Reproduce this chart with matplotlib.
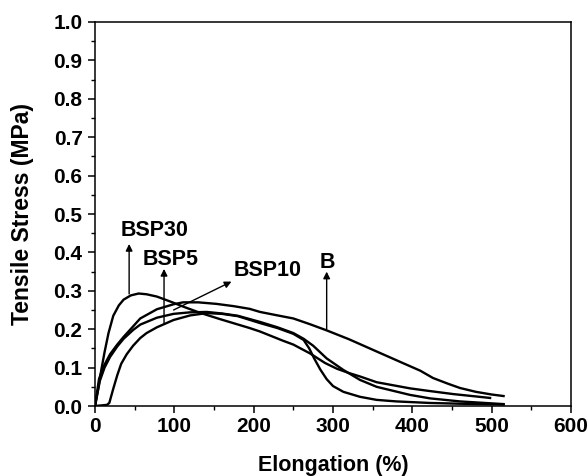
import matplotlib
matplotlib.use("Agg")
import matplotlib.pyplot as plt
from matplotlib.ticker import MultipleLocator

# 글꼴 설정 (Arial 계열)
plt.rcParams["font.family"] = ["Liberation Sans", "DejaVu Sans"]
plt.rcParams["font.weight"] = "bold"

# 인장 곡선 데이터
B_x = [0, 5, 10, 19, 28, 36, 47, 57, 78, 99, 111, 130, 153, 175, 195, 208, 230,
       250, 271, 292, 320, 355, 389, 410, 426, 445, 460, 480, 500, 515]
B_y = [0, 0.07, 0.1, 0.135, 0.16, 0.18, 0.205, 0.228, 0.252, 0.265, 0.27, 0.27,
       0.266, 0.26, 0.253, 0.245, 0.236, 0.228, 0.213, 0.197, 0.174, 0.142,
       0.111, 0.092, 0.073, 0.058, 0.047, 0.037, 0.030, 0.026]

BSP5_x = [0, 15, 18, 23, 28, 33, 40, 48, 57, 65, 78, 99, 120, 141, 160, 180,
          208, 230, 250, 263, 270, 276, 284, 292, 300, 313, 334, 355, 380, 422,
          460, 515]
BSP5_y = [0, 0.003, 0.008, 0.045, 0.08, 0.11, 0.135, 0.157, 0.177, 0.19, 0.205,
          0.224, 0.236, 0.242, 0.240, 0.234, 0.216, 0.203, 0.188, 0.172, 0.15,
          0.125, 0.095, 0.07, 0.052, 0.037, 0.024, 0.016, 0.012, 0.008, 0.006,
          0.004]

BSP10_x = [0, 6, 12, 19, 28, 36, 48, 57, 78, 99, 120, 141, 160, 180, 208, 230,
           250, 263, 275, 292, 313, 334, 355, 397, 422, 460, 515]
BSP10_y = [0, 0.065, 0.1, 0.128, 0.155, 0.175, 0.198, 0.212, 0.23, 0.24, 0.244,
           0.245, 0.241, 0.235, 0.219, 0.205, 0.19, 0.175, 0.157, 0.124, 0.094,
           0.068, 0.050, 0.029, 0.02, 0.012, 0.005]

BSP30_x = [0, 4, 8, 12, 17, 23, 30, 36, 45, 55, 65, 78, 95, 111, 132, 158, 195,
           208, 237, 250, 271, 290, 305, 320, 334, 355, 397, 422, 452, 480, 498]
BSP30_y = [0, 0.045, 0.095, 0.14, 0.19, 0.235, 0.262, 0.277, 0.288, 0.293,
           0.291, 0.285, 0.272, 0.259, 0.243, 0.226, 0.203, 0.194, 0.170, 0.160,
           0.137, 0.112, 0.097, 0.086, 0.077, 0.062, 0.046, 0.039, 0.031, 0.025,
           0.021]

# 라벨: (텍스트 위치, 화살표 시작점, 화살표 끝점)
labels = ["BSP30", "BSP5", "BSP10", "B"]
label_pos = [(75, 0.456), (95, 0.381), (217, 0.354), (293, 0.374)]
arrow_from = [(43, 0.292), (87, 0.216), (99, 0.25), (292, 0.2)]
arrow_to = [(43, 0.422), (87, 0.357), (172, 0.324), (292, 0.35)]


def visualization():
    fig = plt.figure(figsize=(5.88, 4.76), dpi=100)
    ax = fig.add_axes([0.1616, 0.147, 0.8095, 0.8068])

    for xs, ys in [(B_x, B_y), (BSP5_x, BSP5_y), (BSP10_x, BSP10_y), (BSP30_x, BSP30_y)]:
        ax.plot(xs, ys, color="black", lw=1.7)

    for text, pos, a0, a1 in zip(labels, label_pos, arrow_from, arrow_to):
        ax.annotate("", xy=a1, xytext=a0,
                    arrowprops=dict(arrowstyle="-|>", color="black", lw=1.0,
                                    mutation_scale=10, shrinkA=0, shrinkB=0))
        ax.text(pos[0], pos[1], text, ha="center", va="center",
                fontsize=15.5, fontweight="bold")

    ax.set_xlim(0, 600)
    ax.set_ylim(0, 1.0)
    ax.xaxis.set_major_locator(MultipleLocator(100))
    ax.xaxis.set_minor_locator(MultipleLocator(50))
    ax.yaxis.set_major_locator(MultipleLocator(0.1))
    ax.yaxis.set_minor_locator(MultipleLocator(0.05))
    ax.yaxis.set_major_formatter(plt.FuncFormatter(lambda v, p: f"{v:.1f}"))
    ax.tick_params(which="major", direction="out", length=5, width=1.1,
                   labelsize=15, pad=3)
    ax.tick_params(which="minor", direction="out", length=3, width=1.0)
    ax.tick_params(axis="y", pad=4)
    for lab in ax.get_xticklabels() + ax.get_yticklabels():
        lab.set_fontweight("bold")
    for sp in ax.spines.values():
        sp.set_linewidth(1.1)

    ax.set_xlabel("Elongation (%)", fontsize=15.5, fontweight="bold")
    ax.set_ylabel("Tensile Stress (MPa)", fontsize=16.5, fontweight="bold")
    ax.xaxis.label.set_va("center")
    ax.yaxis.label.set_va("center")
    ax.xaxis.set_label_coords(0.5, -0.154)
    ax.yaxis.set_label_coords(-0.153, 0.5)

    plt.savefig("out.png", dpi=100)


if __name__ == "__main__":
    visualization()
